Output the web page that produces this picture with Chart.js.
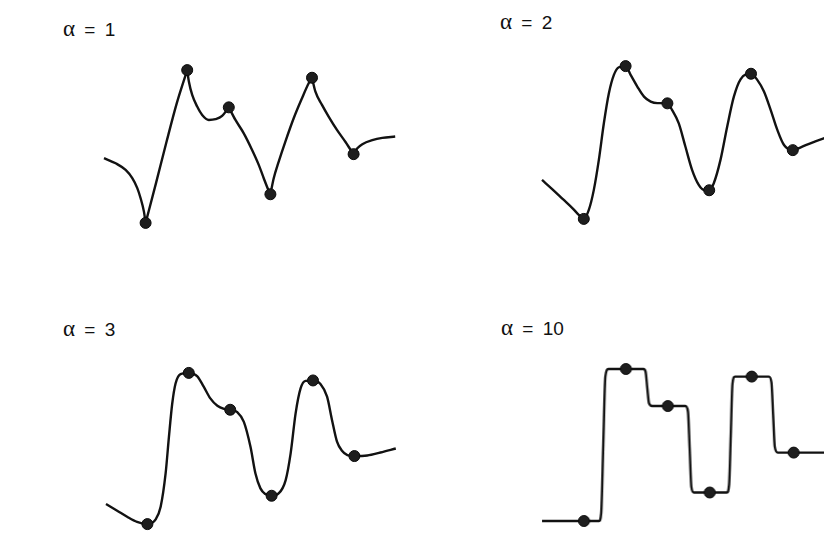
<!DOCTYPE html>
<html>
<head>
<meta charset="utf-8">
<script src="https://cdn.jsdelivr.net/npm/chart.js@4/dist/chart.umd.min.js"></script>
<style>
  html, body { margin: 0; padding: 0; background: #ffffff; }
  body { width: 824px; height: 551px; position: relative; overflow: hidden; }
  .panel { position: absolute; }
  .label { position: absolute; font-family: "Liberation Sans", Arial, sans-serif; font-size: 19px; line-height: 19px; color: #111; word-spacing: 4px; white-space: nowrap; }
  .label .a { font-family: "Liberation Serif", "DejaVu Serif", serif; font-size: 23px; }
</style>
</head>
<body>
<div class="label" style="left:63px; top:19px;"><span class="a">α</span> = 1</div>
<div class="label" style="left:500px; top:12px;"><span class="a">α</span> = 2</div>
<div class="label" style="left:63px; top:319px;"><span class="a">α</span> = 3</div>
<div class="label" style="left:501px; top:318px;"><span class="a">α</span> = 10</div>

<div class="panel" id="p1"><canvas id="c1"></canvas></div>
<div class="panel" id="p2"><canvas id="c2"></canvas></div>
<div class="panel" id="p3"><canvas id="c3"></canvas></div>
<div class="panel" id="p4"><canvas id="c4"></canvas></div>

<script>
// Data points (same six samples in every panel)
const pointX = [1, 2, 3, 4, 5, 6];
const pointY = [1.0, 9.0, 7.05, 2.5, 8.6, 4.6];

// alpha = 1 curve
const curve1X = [0, 0.28, 0.52, 0.68, 0.80, 0.88, 0.96, 1.0, 1.25, 1.5, 1.75, 2.0, 2.04, 2.12, 2.24, 2.36, 2.52, 2.68, 2.84, 3.0, 3.16, 3.36, 3.56, 3.72, 3.84, 3.95, 4.0, 4.08, 4.20, 4.36, 4.56, 4.76, 4.92, 5.0, 5.08, 5.24, 5.40, 5.60, 5.81, 5.93, 6.0, 6.09, 6.21, 6.45, 6.69, 7.0];
const curve1Y = [4.39, 4.12, 3.77, 3.34, 2.82, 2.29, 1.59, 1.0, 3.08, 5.22, 7.27, 9.0, 8.40, 7.70, 7.09, 6.65, 6.39, 6.43, 6.60, 7.05, 6.39, 5.69, 4.82, 4.04, 3.34, 2.73, 2.5, 3.34, 4.21, 5.26, 6.48, 7.53, 8.31, 8.6, 7.88, 7.18, 6.57, 5.87, 5.22, 4.82, 4.6, 4.91, 5.12, 5.33, 5.45, 5.52];

// alpha = 2 curve
const curve2X = [0, 0.25, 0.5, 0.75, 0.88, 1.0, 1.12, 1.24, 1.36, 1.48, 1.60, 1.72, 1.84, 2.0, 2.12, 2.28, 2.44, 2.60, 2.76, 3.0, 3.11, 3.27, 3.43, 3.59, 3.75, 3.87, 4.0, 4.11, 4.27, 4.43, 4.59, 4.75, 5.0, 5.15, 5.31, 5.47, 5.63, 5.79, 6.0, 6.19, 6.42, 6.74, 7.0];
const curve2Y = [3.04, 2.55, 2.03, 1.51, 1.21, 1.0, 1.47, 2.52, 4.09, 6.01, 7.58, 8.54, 8.94, 9.0, 8.54, 7.93, 7.40, 7.14, 7.06, 7.05, 6.71, 6.01, 4.79, 3.57, 2.78, 2.52, 2.5, 2.87, 4.09, 5.83, 7.40, 8.31, 8.6, 8.28, 7.67, 6.71, 5.66, 4.87, 4.6, 4.75, 4.96, 5.22, 5.4];

// alpha = 3 curve
const curve3X = [0, 0.27, 0.51, 0.75, 1.0, 1.20, 1.32, 1.44, 1.52, 1.60, 1.68, 1.80, 2.0, 2.20, 2.36, 2.52, 2.69, 2.85, 3.0, 3.17, 3.33, 3.49, 3.61, 3.73, 3.85, 4.0, 4.17, 4.34, 4.46, 4.58, 4.70, 4.82, 5.0, 5.18, 5.34, 5.46, 5.58, 5.70, 5.83, 6.0, 6.31, 6.63, 7.0];
const curve3Y = [2.06, 1.71, 1.39, 1.12, 1.0, 1.25, 1.92, 3.68, 5.62, 7.38, 8.44, 8.94, 9.0, 8.83, 8.27, 7.65, 7.26, 7.10, 7.05, 6.93, 6.41, 5.09, 3.68, 2.89, 2.59, 2.5, 2.62, 3.33, 4.74, 6.86, 8.18, 8.58, 8.6, 8.41, 7.74, 6.50, 5.36, 4.88, 4.65, 4.6, 4.63, 4.79, 5.0];

// alpha = 10 curve
const curve10X = [0, 1.0, 1.36, 1.41, 1.46, 1.51, 1.58, 2.0, 2.42, 2.47, 2.51, 2.55, 2.62, 3.0, 3.42, 3.48, 3.52, 3.56, 3.62, 4.0, 4.41, 4.46, 4.5, 4.54, 4.6, 5.0, 5.41, 5.47, 5.51, 5.55, 5.62, 6.0, 7.0];
const curve10Y = [1.0, 1.0, 1.0, 1.4, 5.0, 8.6, 9.0, 9.0, 9.0, 8.85, 8.0, 7.2, 7.05, 7.05, 7.05, 6.75, 4.8, 2.8, 2.5, 2.5, 2.5, 2.9, 5.5, 8.2, 8.6, 8.6, 8.6, 8.3, 6.6, 4.9, 4.6, 4.6, 4.6];

const toXY = (xs, ys) => xs.map((x, i) => ({ x: x, y: ys[i] }));

// split a curve at the data points (for cusps)
function splitAtPoints(xs, ys, breaks) {
  const segs = [];
  let cur = [];
  xs.forEach((x, i) => {
    cur.push({ x: x, y: ys[i] });
    if (breaks.includes(x) && cur.length > 1) {
      segs.push(cur);
      cur = [{ x: x, y: ys[i] }];
    }
  });
  if (cur.length > 1) segs.push(cur);
  return segs;
}

const PAD = 12;
function makePanel(id, canvasId, x0, sx, y0pix, sy, segments) {
  // x range 0..7, y range 0..10 ; x0 = pixel of x=0, y0pix = pixel of y=0
  const w = 7 * sx, h = 10 * sy;
  const el = document.getElementById(id);
  el.style.left = (x0 - PAD) + 'px';
  el.style.top = (y0pix - h - PAD) + 'px';
  el.style.width = (w + 2 * PAD) + 'px';
  el.style.height = (h + 2 * PAD) + 'px';
  const lineSets = segments.map(seg => ({
    type: 'line',
    data: seg,
    showLine: true,
    borderColor: '#121212',
    borderWidth: 2.4,
    pointRadius: 0,
    fill: false,
    cubicInterpolationMode: 'monotone',
    clip: false,
    order: 2
  }));
  const dots = {
    type: 'scatter',
    data: toXY(pointX, pointY),
    pointRadius: 5.5,
    pointBackgroundColor: '#1e1e1e',
    pointBorderColor: '#0a0a0a',
    pointBorderWidth: 1,
    showLine: false,
    clip: false,
    order: 1
  };
  new Chart(document.getElementById(canvasId), {
    type: 'scatter',
    data: { datasets: [...lineSets, dots] },
    options: {
      responsive: true,
      maintainAspectRatio: false,
      animation: false,
      events: [],
      layout: { padding: PAD },
      plugins: { legend: { display: false }, tooltip: { enabled: false }, title: { display: false } },
      scales: {
        x: { type: 'linear', min: 0, max: 7, display: false },
        y: { type: 'linear', min: 0, max: 10, display: false }
      }
    }
  });
}

makePanel('p1', 'c1', 103.5, 41.6, 242.1, 19.1, splitAtPoints(curve1X, curve1Y, pointX));
makePanel('p2', 'c2', 541.5, 41.8, 238.1, 19.1, [toXY(curve2X, curve2Y)]);
makePanel('p3', 'c3', 105.5, 41.4, 542.9, 18.9, [toXY(curve3X, curve3Y)]);
makePanel('p4', 'c4', 542.2, 41.8, 540.0, 19.0, [toXY(curve10X, curve10Y)]);
</script>
</body>
</html>
